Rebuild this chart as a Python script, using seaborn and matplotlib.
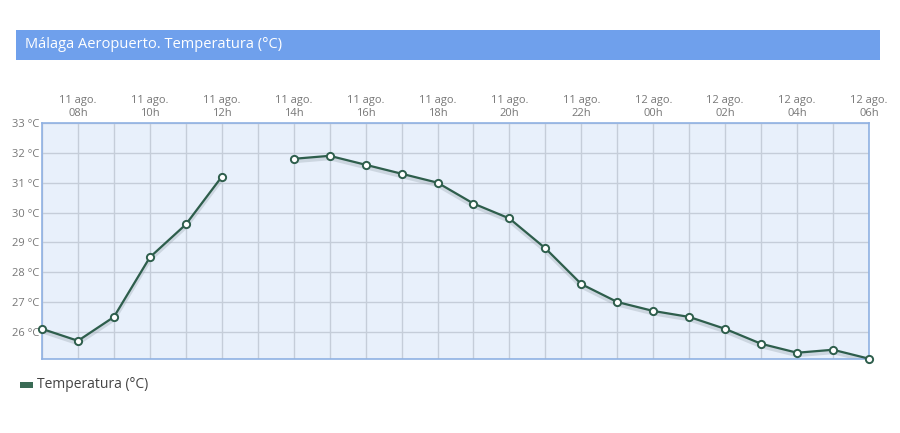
import numpy as np
import pandas as pd
import seaborn as sns
import matplotlib
matplotlib.use("Agg")
import matplotlib.pyplot as plt
from matplotlib.patches import Rectangle

hours = ["07h", "08h", "09h", "10h", "11h", "12h", "13h", "14h", "15h", "16h", "17h", "18h",
         "19h", "20h", "21h", "22h", "23h", "00h", "01h", "02h", "03h", "04h", "05h", "06h"]
days = ["11 ago."] * 17 + ["12 ago."] * 7
temps = [26.1, 25.7, 26.5, 28.5, 29.6, 31.2, np.nan, 31.8, 31.9, 31.6, 31.3, 31.0,
         30.3, 29.8, 28.8, 27.6, 27.0, 26.7, 26.5, 26.1, 25.6, 25.3, 25.4, 25.1]
y_ticks = [26, 27, 28, 29, 30, 31, 32, 33]
title = "Málaga Aeropuerto. Temperatura (°C)"
series_name = "Temperatura (°C)"

sns.set_style("white")
plt.rcParams['font.family'] = ['Open Sans', 'DejaVu Sans']

df = pd.DataFrame({"idx": np.arange(len(hours)), "temp": temps})
# segment id so the gap at missing values is preserved
df["seg"] = df["temp"].isna().cumsum()
df = df.dropna()

fig = plt.figure(figsize=(9, 4.33), dpi=100)
ax = fig.add_axes([42/900, 1-359/433, (869-42)/900, (359-123)/433])

line_col = "#2e5e4c"
# subtle shadow
shadow = df.copy()
shadow["temp"] = shadow["temp"] - 0.08
sns.lineplot(data=shadow, x="idx", y="temp", units="seg", estimator=None, ax=ax,
             color="#9aa6b0", lw=3, alpha=0.35, legend=False)
sns.lineplot(data=df, x="idx", y="temp", units="seg", estimator=None, ax=ax,
             color=line_col, lw=1.6, marker="o", markersize=5.2,
             markerfacecolor="white", markeredgecolor=line_col, markeredgewidth=1.4,
             legend=False, zorder=5)
for ln in ax.lines[-2:]:
    ln.set_clip_on(False)

ax.set_facecolor("#e8f0fb")
ax.set_xlim(0, len(hours) - 1)
ax.set_ylim(25.09, 33)
ax.set_xticks(np.arange(len(hours)))
ax.set_yticks(y_ticks)
ax.grid(True, color="#c5cdd9", lw=1)
ax.set_axisbelow(True)
for s in ax.spines.values():
    s.set_color("#8fb1e3")
    s.set_linewidth(1.2)

ax.xaxis.tick_top()
labels = [f"{d}\n{h}" if i % 2 == 1 else "" for i, (d, h) in enumerate(zip(days, hours))]
ax.set_xticklabels(labels, fontsize=8, color="#777777", linespacing=1.25)
ax.set_yticklabels([f"{v} °C" for v in y_ticks], fontsize=8, color="#777777")
ax.tick_params(axis="both", length=0, pad=3)
ax.tick_params(axis="y", pad=2)
ax.set_xlabel("")
ax.set_ylabel("")

# title bar
fig.patches.append(Rectangle((16/900, 1-60/433), (880-16)/900, 30/433,
                             transform=fig.transFigure, facecolor="#6fa0ec",
                             edgecolor="none", zorder=0))
fig.text(25/900, 1-45/433, title, color="white", fontsize=10.5, va="center", ha="left")

# legend
fig.patches.append(Rectangle((20/900, 1-388/433), 13/900, 6/433,
                             transform=fig.transFigure, facecolor="#3a6b55",
                             edgecolor="none"))
fig.text(37/900, 1-385/433, series_name, color="#444444", fontsize=10, va="center", ha="left")

fig.savefig("out.png", dpi=100)
